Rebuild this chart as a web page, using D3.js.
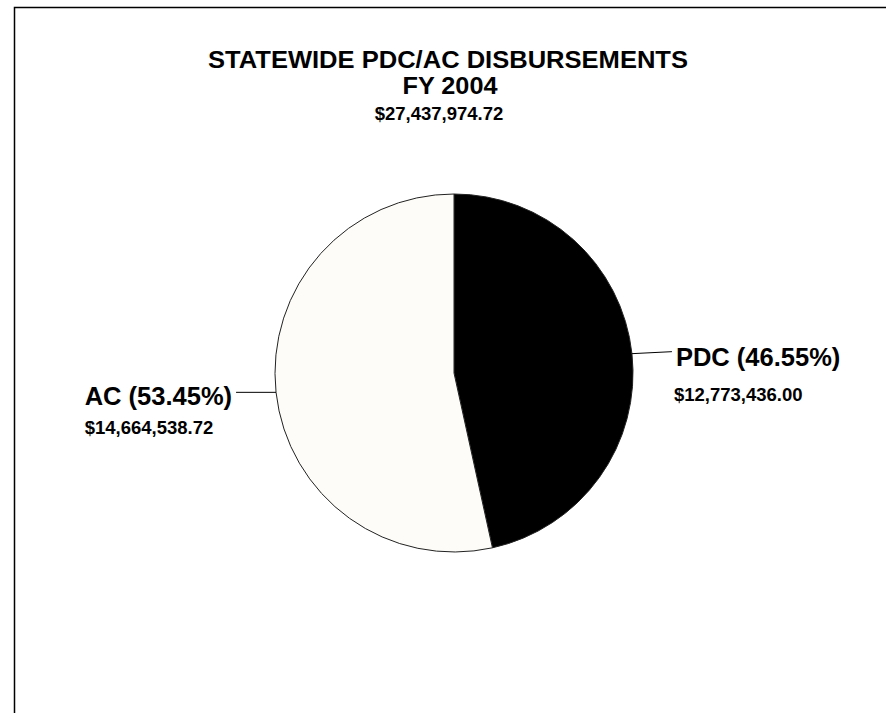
<!DOCTYPE html>
<html>
<head>
<meta charset="utf-8">
<script src="https://cdn.jsdelivr.net/npm/d3@7"></script>
<style>
  html, body { margin: 0; padding: 0; background: #fff; }
  text { font-family: "Liberation Sans", Arial, sans-serif; font-weight: bold; fill: #000; }
</style>
</head>
<body>
<div id="chart"></div>
<script>
var width = 886;
var height = 713;

var categories = ['PDC', 'AC'];
var amounts = [12773436.00, 14664538.72];
var colors = ['#000000', '#fdfcf8'];
var titleLines = ['STATEWIDE PDC/AC DISBURSEMENTS', 'FY 2004'];

var total = d3.sum(amounts);
var money = d3.format('$,.2f');
var pct = d3.format('.2%');

var data = categories.map((c, i) => ({ name: c, value: amounts[i], color: colors[i] }));

var bigFont = '25.5px';
var smallFont = '18.5px';

var svg = d3.select('#chart')
    .append('svg')
    .attr('width', width)
    .attr('height', height);

// frame (only top and left edges show in the picture)
svg.append('path')
    .attr('d', 'M14.5,' + height + ' L14.5,7.5 L' + width + ',7.5')
    .attr('fill', 'none')
    .attr('stroke', '#000')
    .attr('stroke-width', 1.5);

// titles - the original font is a bit wide for its height, so stretch it
svg.append('text')
    .attr('x', 448).attr('y', 68)
    .attr('text-anchor', 'middle')
    .attr('textLength', 480)
    .attr('lengthAdjust', 'spacingAndGlyphs')
    .style('font-size', '23px')
    .text(titleLines[0]);
svg.append('text')
    .attr('x', 450).attr('y', 94)
    .attr('text-anchor', 'middle')
    .attr('textLength', 95)
    .attr('lengthAdjust', 'spacingAndGlyphs')
    .style('font-size', '23px')
    .text(titleLines[1]);
svg.append('text')
    .attr('x', 439).attr('y', 120)
    .attr('text-anchor', 'middle')
    .style('font-size', smallFont)
    .text(money(total));

var cx = 454, cy = 373, r = 179;

var pie = d3.pie()
    .sort(null)
    .value((d) => d.value);

var arc = d3.arc().innerRadius(0).outerRadius(r);

var g = svg.append('g')
    .attr('transform', `translate(${cx},${cy})`);

var arcs = pie(data);

g.selectAll('path')
    .data(arcs)
    .enter()
    .append('path')
    .attr('d', arc)
    .attr('fill', (d) => d.data.color)
    .attr('stroke', '#222')
    .attr('stroke-width', 1);

// leader lines + labels
var leaderLen = 40;
arcs.forEach((d) => {
    var mid = (d.startAngle + d.endAngle) / 2;
    var x0 = r * Math.sin(mid);
    var y0 = -r * Math.cos(mid);
    var right = x0 > 0;
    var x1 = x0 + (right ? leaderLen : -leaderLen);

    g.append('line')
        .attr('x1', x0).attr('y1', y0)
        .attr('x2', x1).attr('y2', y0 - (right ? 2 : 0))
        .attr('stroke', '#000')
        .attr('stroke-width', 1);

    var label = g.append('text')
        .attr('x', right ? x1 + 4 : x1 - 4)
        .attr('y', y0 + (right ? 12 : 13))
        .attr('text-anchor', right ? 'start' : 'end')
        .style('font-size', bigFont)
        .text(d.data.name + ' (' + pct(d.value / total) + ')');

    var lw = label.node().getComputedTextLength();
    g.append('text')
        .attr('x', right ? x1 + 2 : x1 - 4 - lw)
        .attr('y', y0 + (right ? 47 : 42))
        .attr('text-anchor', 'start')
        .style('font-size', smallFont)
        .text(money(d.value));
});
</script>
</body>
</html>
